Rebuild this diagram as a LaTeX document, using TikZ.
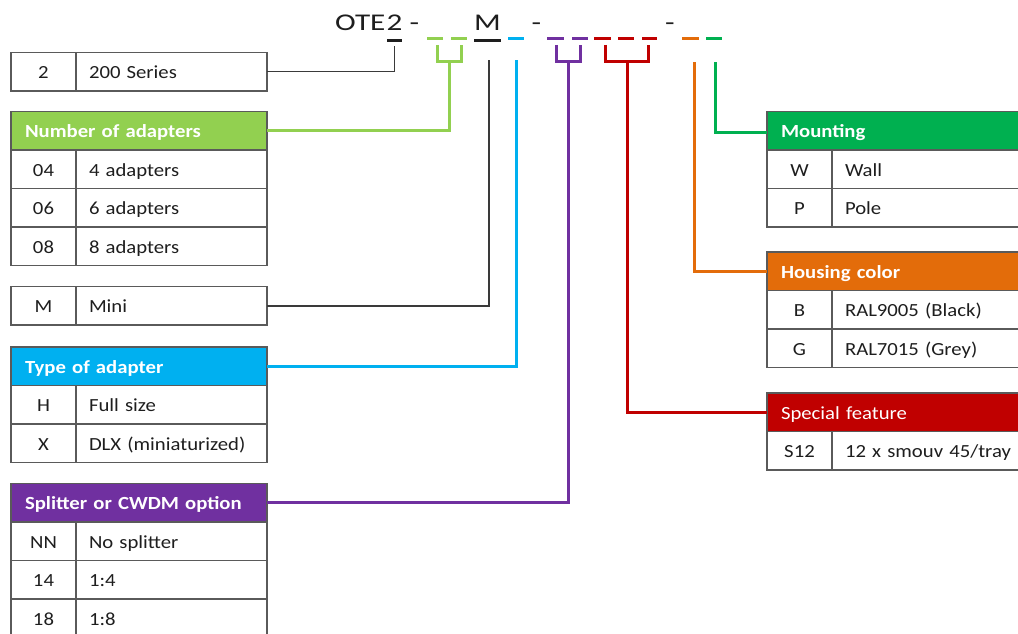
\documentclass[tikz,border=0pt]{standalone}
\usepackage{fontspec}
\setmainfont{Carlito}[FakeStretch=1.12]
\newfontfamily\topfont{Carlito}[FakeStretch=1.3]
\definecolor{cgreenl}{HTML}{92D050}
\definecolor{ccyan}{HTML}{00B0F0}
\definecolor{cpurple}{HTML}{7030A0}
\definecolor{cred}{HTML}{C00000}
\definecolor{corange}{HTML}{E36C0A}
\definecolor{cgreen}{HTML}{00B050}
\definecolor{gridgray}{HTML}{5A5A5A}
\definecolor{inkblack}{HTML}{1E1E1E}
\definecolor{linkblack}{HTML}{3A3A3A}
\tikzset{
  base cell/.style={draw=gridgray, line width=1.6pt, minimum height=38.5pt,
    inner ysep=0pt, outer sep=0pt, anchor=north west, text=inkblack,
    text height=16pt, text depth=1.6pt, font=\fontsize{18.5}{20}\selectfont},
  codecell/.style={base cell, minimum width=65pt, text width=45pt, inner xsep=10pt, align=center},
  desccell/.style={base cell, minimum width=191pt, text width=165pt, inner xsep=13pt, align=left},
  rdesccell/.style={base cell, minimum width=215pt, text width=189pt, inner xsep=13pt, align=left},
  headcell/.style={base cell, minimum width=256pt, text width=228pt, inner xsep=14pt, align=left,
    text=white, font=\fontsize{18.5}{20}\selectfont\bfseries},
  rheadcell/.style={headcell, minimum width=280pt, text width=252pt},
  link/.style={line width=3pt, line join=miter},
  blink/.style={line width=1.5pt, draw=linkblack},
  slot/.style={line width=2.6pt},
  toptext/.style={inner sep=0pt, anchor=base, text=inkblack, font=\topfont\fontsize{24}{26}\selectfont},
}
\newcommand\optrow[5]{%
  \node[codecell] (#1c) at (#2,#3) {#4};
  \node[desccell] (#1d) at (#1c.north east) {#5};}
\newcommand\roptrow[5]{%
  \node[codecell] (#1c) at (#2,#3) {#4};
  \node[rdesccell] (#1d) at (#1c.north east) {#5};}
\begin{document}
\begin{tikzpicture}[x=1pt,y=-1pt]
\clip (0,0) rectangle (1018,634);
\fill[white] (0,0) rectangle (1018,634);

% ---------- top code ----------
\node[toptext, anchor=base west] (ote) at (335,30.5) {OTE};
\node[toptext] (two) at (394.5,30.5) {2};
\node[toptext] (hy1) at (414.5,30.5) {-};
\node[toptext] (em) at (487.5,30.5) {M};
\node[toptext] (hy2) at (536.5,30.5) {-};
\node[toptext] (hy3) at (670,30.5) {-};

\draw[slot, draw=inkblack] (387,40.5) -- (402,40.5);
\draw[slot, draw=inkblack] (474,40.5) -- (501,40.5);
\draw[slot, draw=cgreenl] (427,38.5) -- (443,38.5) (451,38.5) -- (467,38.5);
\draw[slot, draw=ccyan] (508,38.5) -- (524,38.5);
\draw[slot, draw=cpurple] (547,38.5) -- (564,38.5) (572,38.5) -- (588,38.5);
\draw[slot, draw=cred] (594,38.5) -- (611,38.5) (618,38.5) -- (634,38.5) (642,38.5) -- (657,38.5);
\draw[slot, draw=corange] (682,38.5) -- (699,38.5);
\draw[slot, draw=cgreen] (706,38.5) -- (722,38.5);

% bracket / stem points
\coordinate (sTwo) at (394.5,46);
\coordinate (sGreenL) at (449.5,61.5);
\coordinate (sM) at (489,60);
\coordinate (sCyan) at (516,60);
\coordinate (sPurple) at (568,61.5);
\coordinate (sRed) at (627,61.5);
\coordinate (sOrange) at (694,62);
\coordinate (sGreen) at (715,62);

\draw[link, draw=cgreenl] (437,45) -- (437,61.5) -- (461.5,61.5) -- (461.5,45);
\draw[link, draw=cpurple] (556,45) -- (556,61.5) -- (580,61.5) -- (580,45);
\draw[link, draw=cred] (605,45) -- (605,61.5) -- (648.5,61.5) -- (648.5,45);

% ---------- left tables ----------
\optrow{two}{11}{52.5}{2}{200 Series}

\node[headcell, fill=cgreenl] (hnum) at (11,111.5) {Number of adapters};
\optrow{n04}{11}{150}{04}{4 adapters}
\optrow{n06}{11}{188.5}{06}{6 adapters}
\optrow{n08}{11}{227}{08}{8 adapters}

\optrow{mini}{11}{286.5}{M}{Mini}

\node[headcell, fill=ccyan] (htype) at (11,347) {Type of adapter};
\optrow{tH}{11}{385.5}{H}{Full size}
\optrow{tX}{11}{424}{X}{DLX (miniaturized)}

\node[headcell, fill=cpurple] (hsplit) at (11,483.5) {Splitter or CWDM option};
\optrow{sNN}{11}{522}{NN}{No splitter}
\optrow{s14}{11}{560.5}{14}{1:4}
\optrow{s18}{11}{599}{18}{1:8}

% ---------- right tables ----------
\node[rheadcell, fill=cgreen] (hmount) at (767,111.5) {Mounting};
\roptrow{mW}{767}{150}{W}{Wall}
\roptrow{mP}{767}{188.5}{P}{Pole}

\node[rheadcell, fill=corange] (hcolor) at (767,252) {Housing color};
\roptrow{cB}{767}{290.5}{B}{RAL9005 (Black)}
\roptrow{cG}{767}{329}{G}{RAL7015 (Grey)}

\node[rheadcell, fill=cred, font=\fontsize{18.5}{20}\selectfont\mdseries] (hspec) at (767,393) {Special feature};
\roptrow{sp}{767}{431.5}{S12}{12 x smouv 45/tray}

% ---------- connectors ----------
\draw[blink] (twod.east) -- (twod.east -| sTwo) -- (sTwo);
\draw[link, draw=cgreenl] (hnum.east) -- (hnum.east -| sGreenL) -- (sGreenL);
\draw[blink] (minid.east) -- (minid.east -| sM) -- (sM);
\draw[link, draw=ccyan] (htype.east) -- (htype.east -| sCyan) -- (sCyan);
\draw[link, draw=cpurple] (hsplit.east) -- (hsplit.east -| sPurple) -- (sPurple);
\draw[link, draw=cred] (hspec.west) -- (hspec.west -| sRed) -- (sRed);
\draw[link, draw=corange] (hcolor.west) -- (hcolor.west -| sOrange) -- (sOrange);
\draw[link, draw=cgreen] ([yshift=-2pt]hmount.west) -- ([yshift=-2pt]hmount.west -| sGreen) -- (sGreen);
\end{tikzpicture}
\end{document}
